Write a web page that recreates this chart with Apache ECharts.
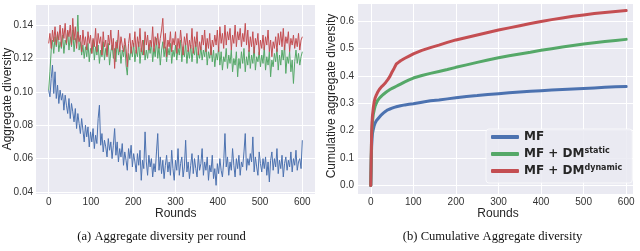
<!DOCTYPE html>
<html><head><meta charset="utf-8">
<script src="https://cdn.jsdelivr.net/npm/echarts@6/dist/echarts.min.js"></script>
<style>html,body{margin:0;padding:0;background:#fff}#c{width:640px;height:251px}</style>
</head><body><div id="c"></div>
<script>
// ---- (a) per-round aggregate diversity, sampled every 3 rounds ----
const roundsA = [
0,3,6,9,12,15,18,21,24,27,
30,33,36,39,42,45,48,51,54,57,
60,63,66,69,72,75,78,81,84,87,
90,93,96,99,102,105,108,111,114,117,
120,123,126,129,132,135,138,141,144,147,
150,153,156,159,162,165,168,171,174,177,
180,183,186,189,192,195,198,201,204,207,
210,213,216,219,222,225,228,231,234,237,
240,243,246,249,252,255,258,261,264,267,
270,273,276,279,282,285,288,291,294,297,
300,303,306,309,312,315,318,321,324,327,
330,333,336,339,342,345,348,351,354,357,
360,363,366,369,372,375,378,381,384,387,
390,393,396,399,402,405,408,411,414,417,
420,423,426,429,432,435,438,441,444,447,
450,453,456,459,462,465,468,471,474,477,
480,483,486,489,492,495,498,501,504,507,
510,513,516,519,522,525,528,531,534,537,
540,543,546,549,552,555,558,561,564,567,
570,573,576,579,582,585,588,591,594,597,
600];

const mfRound = [
0.101,0.097,0.108,0.116,0.099,0.112,0.096,0.104,0.093,0.101,
0.095,0.099,0.089,0.098,0.092,0.087,0.096,0.084,0.093,0.088,
0.082,0.090,0.078,0.087,0.081,0.075,0.084,0.077,0.070,0.080,
0.073,0.079,0.067,0.076,0.070,0.078,0.066,0.074,0.069,0.084,
0.092,0.068,0.075,0.064,0.071,0.067,0.061,0.072,0.065,0.070,
0.060,0.068,0.078,0.062,0.070,0.058,0.066,0.061,0.069,0.056,
0.064,0.059,0.053,0.066,0.060,0.068,0.055,0.063,0.058,0.052,
0.063,0.056,0.065,0.047,0.059,0.054,0.076,0.058,0.050,0.062,
0.055,0.060,0.049,0.057,0.052,0.064,0.075,0.053,0.061,0.051,
0.059,0.048,0.056,0.062,0.052,0.058,0.050,0.065,0.054,0.047,
0.059,0.053,0.066,0.050,0.057,0.061,0.049,0.055,0.071,0.052,
0.058,0.048,0.056,0.063,0.051,0.060,0.054,0.049,0.062,0.053,
0.057,0.066,0.050,0.058,0.053,0.061,0.047,0.056,0.052,0.062,
0.048,0.054,0.044,0.057,0.051,0.060,0.053,0.049,0.058,0.075,
0.055,0.061,0.050,0.058,0.053,0.066,0.056,0.049,0.060,0.054,
0.062,0.050,0.058,0.055,0.064,0.075,0.053,0.060,0.056,0.063,
0.058,0.073,0.052,0.061,0.055,0.050,0.064,0.057,0.052,0.060,
0.054,0.061,0.050,0.058,0.046,0.059,0.064,0.053,0.060,0.055,
0.066,0.051,0.059,0.054,0.062,0.049,0.057,0.061,0.053,0.059,
0.055,0.064,0.052,0.060,0.056,0.065,0.053,0.058,0.060,0.054,
0.071];

const staticRound = [
0.101,0.112,0.125,0.131,0.123,0.133,0.127,0.135,0.124,0.130,
0.126,0.134,0.123,0.131,0.128,0.136,0.125,0.133,0.127,0.137,
0.124,0.132,0.129,0.146,0.125,0.130,0.122,0.128,0.120,0.127,
0.121,0.129,0.118,0.126,0.123,0.131,0.119,0.127,0.122,0.128,
0.117,0.125,0.121,0.130,0.119,0.126,0.122,0.129,0.116,0.124,
0.128,0.120,0.126,0.118,0.131,0.122,0.127,0.117,0.125,0.121,
0.128,0.116,0.110,0.123,0.119,0.127,0.121,0.129,0.118,0.125,
0.121,0.130,0.117,0.126,0.122,0.131,0.119,0.125,0.120,0.128,
0.123,0.130,0.118,0.126,0.121,0.132,0.120,0.127,0.116,0.125,
0.130,0.121,0.127,0.118,0.126,0.122,0.129,0.117,0.125,0.121,
0.128,0.119,0.126,0.122,0.131,0.118,0.127,0.121,0.129,0.117,
0.125,0.120,0.128,0.118,0.126,0.122,0.130,0.117,0.124,0.120,
0.127,0.119,0.125,0.121,0.129,0.116,0.124,0.120,0.127,0.118,
0.125,0.115,0.123,0.119,0.127,0.116,0.124,0.113,0.121,0.118,
0.126,0.114,0.122,0.117,0.125,0.112,0.120,0.116,0.124,0.109,
0.120,0.114,0.124,0.117,0.126,0.112,0.121,0.116,0.125,0.114,
0.122,0.117,0.127,0.113,0.121,0.118,0.124,0.115,0.122,0.117,
0.127,0.113,0.121,0.116,0.124,0.109,0.119,0.115,0.123,0.118,
0.126,0.113,0.122,0.116,0.125,0.119,0.128,0.111,0.121,0.117,
0.124,0.112,0.119,0.105,0.118,0.125,0.117,0.123,0.116,0.121,
0.124];

const dynamicRound = [
0.129,0.135,0.126,0.137,0.130,0.139,0.128,0.136,0.131,0.140,
0.127,0.138,0.132,0.141,0.129,0.137,0.133,0.140,0.128,0.144,
0.131,0.139,0.126,0.136,0.130,0.134,0.124,0.137,0.128,0.133,
0.125,0.136,0.129,0.134,0.123,0.132,0.127,0.138,0.124,0.135,
0.129,0.133,0.122,0.136,0.127,0.131,0.121,0.134,0.128,0.137,
0.125,0.132,0.114,0.130,0.126,0.137,0.124,0.133,0.128,0.124,
0.132,0.126,0.115,0.129,0.135,0.123,0.131,0.127,0.136,0.123,
0.133,0.127,0.138,0.124,0.131,0.122,0.136,0.128,0.134,0.125,
0.131,0.127,0.139,0.124,0.133,0.128,0.135,0.126,0.132,0.137,
0.144,0.126,0.135,0.121,0.131,0.127,0.136,0.124,0.132,0.128,
0.136,0.123,0.132,0.126,0.137,0.129,0.122,0.133,0.128,0.135,
0.124,0.131,0.126,0.138,0.123,0.133,0.127,0.136,0.122,0.130,
0.125,0.134,0.128,0.137,0.124,0.132,0.126,0.135,0.122,0.131,
0.127,0.134,0.128,0.137,0.124,0.139,0.129,0.135,0.126,0.140,
0.128,0.136,0.131,0.138,0.125,0.134,0.129,0.140,0.127,0.136,
0.131,0.138,0.127,0.135,0.130,0.141,0.128,0.137,0.124,0.133,
0.127,0.136,0.123,0.132,0.128,0.135,0.122,0.131,0.126,0.134,
0.125,0.133,0.128,0.137,0.124,0.131,0.121,0.130,0.126,0.133,
0.124,0.135,0.128,0.136,0.127,0.138,0.125,0.133,0.129,0.136,
0.124,0.132,0.128,0.134,0.126,0.132,0.127,0.135,0.125,0.131,
0.133];

// ---- (b) cumulative aggregate diversity ----
const roundsB = [0,1,2,3,4,6,8,10,13,16,20,25,30,35,40,45,50,55,60,65,70,80,90,100,
120,140,160,180,200,225,250,275,300,325,350,375,400,425,450,475,500,525,550,575,600];
const mfCum = [0.0,0.08,0.14,0.17,0.19,0.205,0.218,0.227,0.236,0.242,0.249,0.258,0.265,0.271,0.276,
0.279,0.282,0.285,0.287,0.289,0.291,0.294,0.296,0.298,0.304,0.309,0.312,0.316,0.320,0.325,
0.328,0.332,0.335,0.338,0.341,0.344,0.346,0.348,0.350,0.352,0.354,0.356,0.358,0.360,0.361];
const staticCum = [0.0,0.1,0.18,0.21,0.235,0.26,0.275,0.288,0.30,0.31,0.318,0.326,0.333,0.339,0.345,
0.35,0.354,0.358,0.362,0.366,0.370,0.378,0.385,0.392,0.401,0.409,0.416,0.423,0.431,0.440,
0.449,0.458,0.466,0.473,0.480,0.486,0.493,0.499,0.505,0.511,0.516,0.521,0.525,0.529,0.533];
const dynamicCum = [0.0,0.1,0.19,0.23,0.255,0.285,0.305,0.318,0.33,0.34,0.35,0.36,0.367,0.376,0.386,
0.398,0.414,0.428,0.443,0.449,0.455,0.464,0.472,0.480,0.493,0.503,0.512,0.522,0.531,0.540,
0.549,0.558,0.567,0.575,0.583,0.591,0.598,0.605,0.611,0.617,0.622,0.627,0.631,0.635,0.638];

// ---- ticks, labels ----
const xTicks = [0,100,200,300,400,500,600];
const yTicksA = [0.04,0.06,0.08,0.10,0.12,0.14];
const yTicksB = [0.0,0.1,0.2,0.3,0.4,0.5,0.6];
const seriesNames = ['MF','MF + DM static','MF + DM dynamic'];
const legendMain = ['MF','MF + DM','MF + DM'];
const legendSup = ['','static','dynamic'];
const colors = ['#4C72B0','#55A868','#C44E52'];
const captionA = '(a) Aggregate diversity per round';
const captionB = '(b) Cumulative Aggregate diversity';

const pairs = (xs, ys) => xs.map((x, i) => [x, ys[i]]);
const sans = 'Liberation Sans, Arial, sans-serif';
const tickColor = '#333';

function xAxis(gi, max){
  return {type:'value', gridIndex:gi, min:-30, max:max,
    axisLine:{show:false}, axisTick:{show:false, customValues:xTicks},
    axisLabel:{customValues:xTicks, fontSize:10, color:tickColor, margin:3, fontFamily:sans},
    splitLine:{show:true, customValues:xTicks, lineStyle:{color:'#fff', width:1}}};
}
function yAxis(gi, min, max, ticks, dec, margin){
  return {type:'value', gridIndex:gi, min:min, max:max,
    axisLine:{show:false}, axisTick:{show:false, customValues:ticks},
    axisLabel:{customValues:ticks, fontSize:10, color:tickColor, margin:margin, fontFamily:sans,
      formatter: v => v.toFixed(dec)},
    splitLine:{show:true, customValues:ticks, lineStyle:{color:'#fff', width:1}}};
}

const roundSeries = [mfRound, staticRound, dynamicRound];
const cumSeries = [mfCum, staticCum, dynamicCum];
const series = [];
roundSeries.forEach((d, i) => series.push({
  type:'line', name:seriesNames[i], xAxisIndex:0, yAxisIndex:0,
  data:pairs(roundsA, d), showSymbol:false, symbol:'none',
  lineStyle:{width:1, color:colors[i]}, itemStyle:{color:colors[i]}, animation:false
}));
cumSeries.forEach((d, i) => series.push({
  type:'line', name:seriesNames[i], xAxisIndex:1, yAxisIndex:1,
  data:pairs(roundsB, d), showSymbol:false, symbol:'none',
  lineStyle:{width:3, color:colors[i], cap:'round', join:'round'}, itemStyle:{color:colors[i]}, animation:false
}));

const chart = echarts.init(document.getElementById('c'), null, {renderer:'canvas'});
chart.setOption({
  animation:false,
  color:colors,
  grid:[
    {left:36, top:5, width:279, height:189, show:true, backgroundColor:'#EAEAF2', borderWidth:0},
    {left:358, top:4, width:275, height:190, show:true, backgroundColor:'#EAEAF2', borderWidth:0}
  ],
  xAxis:[xAxis(0, 630), xAxis(1, 616)],
  yAxis:[yAxis(0, 0.0388, 0.152, yTicksA, 2, 3), yAxis(1, -0.031, 0.662, yTicksB, 1, 4)],
  legend:{
    data:seriesNames, orient:'vertical', left:486, top:129,
    padding:[2,10,6,5], itemGap:4, itemWidth:28, itemHeight:4, icon:'roundRect',
    backgroundColor:'rgba(234,234,242,0.85)', borderColor:'rgba(255,255,255,0.7)', borderWidth:1, borderRadius:3,
    selectedMode:false,
    formatter: name => {
      const i = seriesNames.indexOf(name);
      return legendSup[i] ? '{m|' + legendMain[i] + '}{s|' + legendSup[i] + '}' : '{m|' + legendMain[i] + '}';
    },
    textStyle:{
      rich:{
        m:{fontSize:12, fontWeight:'bold', fontFamily:'DejaVu Sans', color:'#262626', lineHeight:14},
        s:{fontSize:8, fontWeight:'bold', fontFamily:'DejaVu Sans', color:'#262626', lineHeight:10, verticalAlign:'top'}
      }
    }
  },
  graphic:[
    {type:'text', x:7.5, y:99, rotation:Math.PI/2, style:{text:'Aggregate diversity', fontSize:12, fontFamily:sans, fill:'#262626', align:'center', verticalAlign:'middle'}},
    {type:'text', x:331.5, y:96, rotation:Math.PI/2, style:{text:'Cumulative aggregate diversity', fontSize:12, fontFamily:sans, fill:'#262626', align:'center', verticalAlign:'middle'}},
    {type:'text', x:175.7, y:214, style:{text:'Rounds', fontSize:12, fontFamily:sans, fill:'#262626', align:'center', verticalAlign:'middle'}},
    {type:'text', x:498, y:214, style:{text:'Rounds', fontSize:12, fontFamily:sans, fill:'#262626', align:'center', verticalAlign:'middle'}},
    {type:'text', x:161.6, y:237, style:{text:captionA, fontSize:12.6, fontFamily:'Liberation Serif, serif', fill:'#111', align:'center', verticalAlign:'middle'}},
    {type:'text', x:492.5, y:237, style:{text:captionB, fontSize:12.6, fontFamily:'Liberation Serif, serif', fill:'#111', align:'center', verticalAlign:'middle'}}
  ],
  series:series
});
</script></body></html>
